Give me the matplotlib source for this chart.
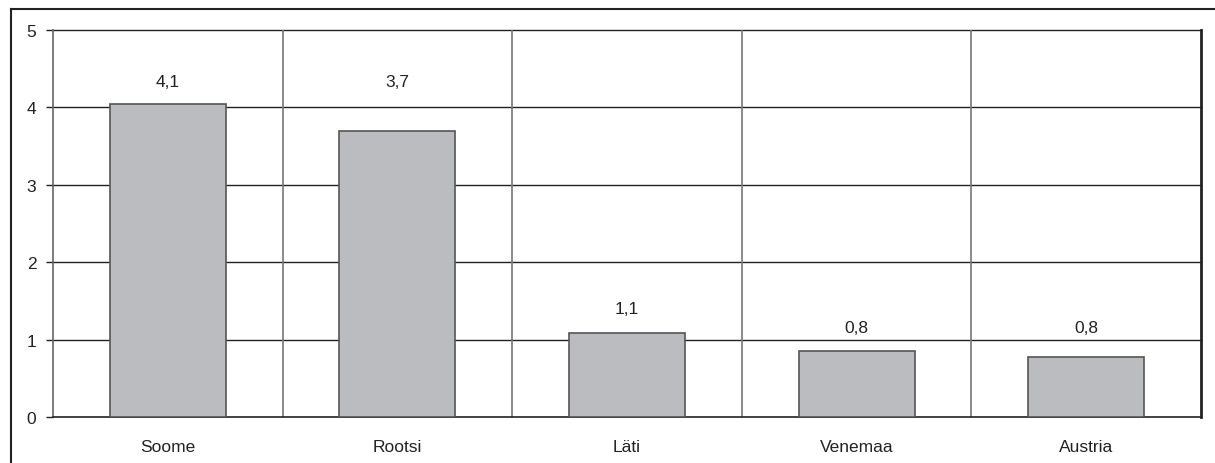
import matplotlib
matplotlib.use("Agg")
import matplotlib.pyplot as plt
from matplotlib.lines import Line2D
import numpy as np

categories = ["Soome", "Rootsi", "Läti", "Venemaa", "Austria"]
values = [4.05, 3.69, 1.08, 0.85, 0.77]
labels = ["4,1", "3,7", "1,1", "0,8", "0,8"]
label_y = [4.33, 4.33, 1.40, 1.16, 1.16]
yticks = [0, 1, 2, 3, 4, 5]

plt.rcParams['font.family'] = ['Liberation Sans', 'DejaVu Sans']

fig = plt.figure(figsize=(12.15, 4.64), dpi=100)
ax = fig.add_axes([53/1215, 46/464, (1201-53)/1215, (418-31)/464])

x = np.arange(len(categories))
ax.bar(x, values, width=0.505, color="#bbbcc0", edgecolor="#555555", linewidth=1.2, zorder=3)
for xi, ly, lab in zip(x, label_y, labels):
    ax.text(xi, ly, lab, ha="center", va="center", fontsize=12.5, color="#222222")

ax.set_xlim(-0.5, len(categories) - 0.5)
ax.set_ylim(0, 5)
ax.set_yticks(yticks)
ax.set_yticklabels([str(t) for t in yticks], fontsize=12.5, color="#222222")
ax.set_xticks(x)
ax.set_xticklabels(categories, fontsize=12.5, color="#222222")
ax.tick_params(axis="x", length=0, pad=16)
ax.tick_params(axis="y", length=5, width=1, color="#222222", pad=7)

for yv in yticks[1:]:
    ax.axhline(yv, color="#222222", linewidth=1.0, zorder=1, clip_on=False)
for b in np.arange(0.5, len(categories) - 0.5, 1.0):
    ax.axvline(b, color="#777777", linewidth=1.2, zorder=1)

ax.spines["top"].set_visible(False)
ax.spines["left"].set_color("#666666")
ax.spines["left"].set_linewidth(1.2)
ax.spines["right"].set_color("#222222")
ax.spines["right"].set_linewidth(2.0)
ax.spines["bottom"].set_color("#222222")
ax.spines["bottom"].set_linewidth(1.2)

# outer frame (left and top edges visible)
fig.add_artist(Line2D([11/1215, 11/1215], [0, 1 - 10/464], transform=fig.transFigure, color="#222222", linewidth=1.5))
fig.add_artist(Line2D([11/1215, 1], [1 - 10/464, 1 - 10/464], transform=fig.transFigure, color="#222222", linewidth=1.5))

fig.savefig("out.png", dpi=100)
